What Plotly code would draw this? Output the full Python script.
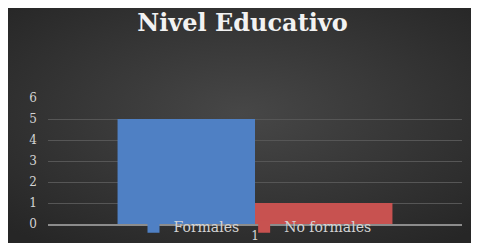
import base64
import plotly.graph_objects as go

categories = ["1"]
series_names = ["Formales", "No formales"]
formales = [5]
no_formales = [1]
y_ticks = [0, 1, 2, 3, 4, 5, 6]

SERIF = "DejaVu Serif, Liberation Serif, serif"
TICK_COLOR = "#d4d4d4"

W, H = 469, 235
L, R, T, B = 40, 15, 90, 19
PW, PH = W - L - R, H - T - B

svg = (
    '<svg xmlns="http://www.w3.org/2000/svg" width="469" height="235" preserveAspectRatio="none">'
    '<defs><radialGradient id="g" cx="50%" cy="45%" r="70%">'
    '<stop offset="0%" stop-color="#474747"/>'
    '<stop offset="100%" stop-color="#262626"/>'
    '</radialGradient></defs>'
    '<rect width="100%" height="100%" fill="url(#g)"/></svg>'
)
bg_uri = "data:image/svg+xml;base64," + base64.b64encode(svg.encode()).decode()

fig = go.Figure()
fig.add_trace(go.Bar(
    name=series_names[0], x=categories, y=formales,
    marker=dict(color="#4f80c4", line=dict(width=0)),
))
fig.add_trace(go.Bar(
    name=series_names[1], x=categories, y=no_formales,
    marker=dict(color="#c85250", line=dict(width=0)),
))

fig.update_layout(
    width=W, height=H,
    margin=dict(l=L, r=R, t=T, b=B, autoexpand=False),
    paper_bgcolor="#363636",
    plot_bgcolor="rgba(0,0,0,0)",
    barmode="group",
    bargap=0.336,
    bargroupgap=0,
    images=[dict(
        source=bg_uri, xref="paper", yref="paper",
        x=-L / PW, y=1 + T / PH, sizex=W / PW, sizey=H / PH,
        xanchor="left", yanchor="top", sizing="stretch", layer="below",
    )],
    title=dict(
        text="<b>Nivel Educativo</b>",
        x=0.5, xanchor="center",
        y=0.975, yanchor="top",
        font=dict(family=SERIF, size=24, color="#f2f2f2"),
    ),
    showlegend=True,
    legend=dict(
        orientation="h",
        x=0.5, xanchor="center",
        y=-0.025, yanchor="middle",
        font=dict(family=SERIF, size=14, color=TICK_COLOR),
        bgcolor="rgba(0,0,0,0)",
        itemwidth=30,
        tracegroupgap=0,
    ),
    xaxis=dict(
        showgrid=False,
        tickfont=dict(family=SERIF, size=12, color=TICK_COLOR),
        ticks="", ticklabelstandoff=0,
        showline=True, linecolor="#8c8c8c", linewidth=1.5,
    ),
    yaxis=dict(
        range=[0, 6],
        tickvals=y_ticks,
        showgrid=True, gridcolor="#565656", gridwidth=1,
        zeroline=False,
        tickfont=dict(family=SERIF, size=12, color=TICK_COLOR),
        ticks="", ticklabelstandoff=10,
    ),
)

fig.write_html("out.html")
